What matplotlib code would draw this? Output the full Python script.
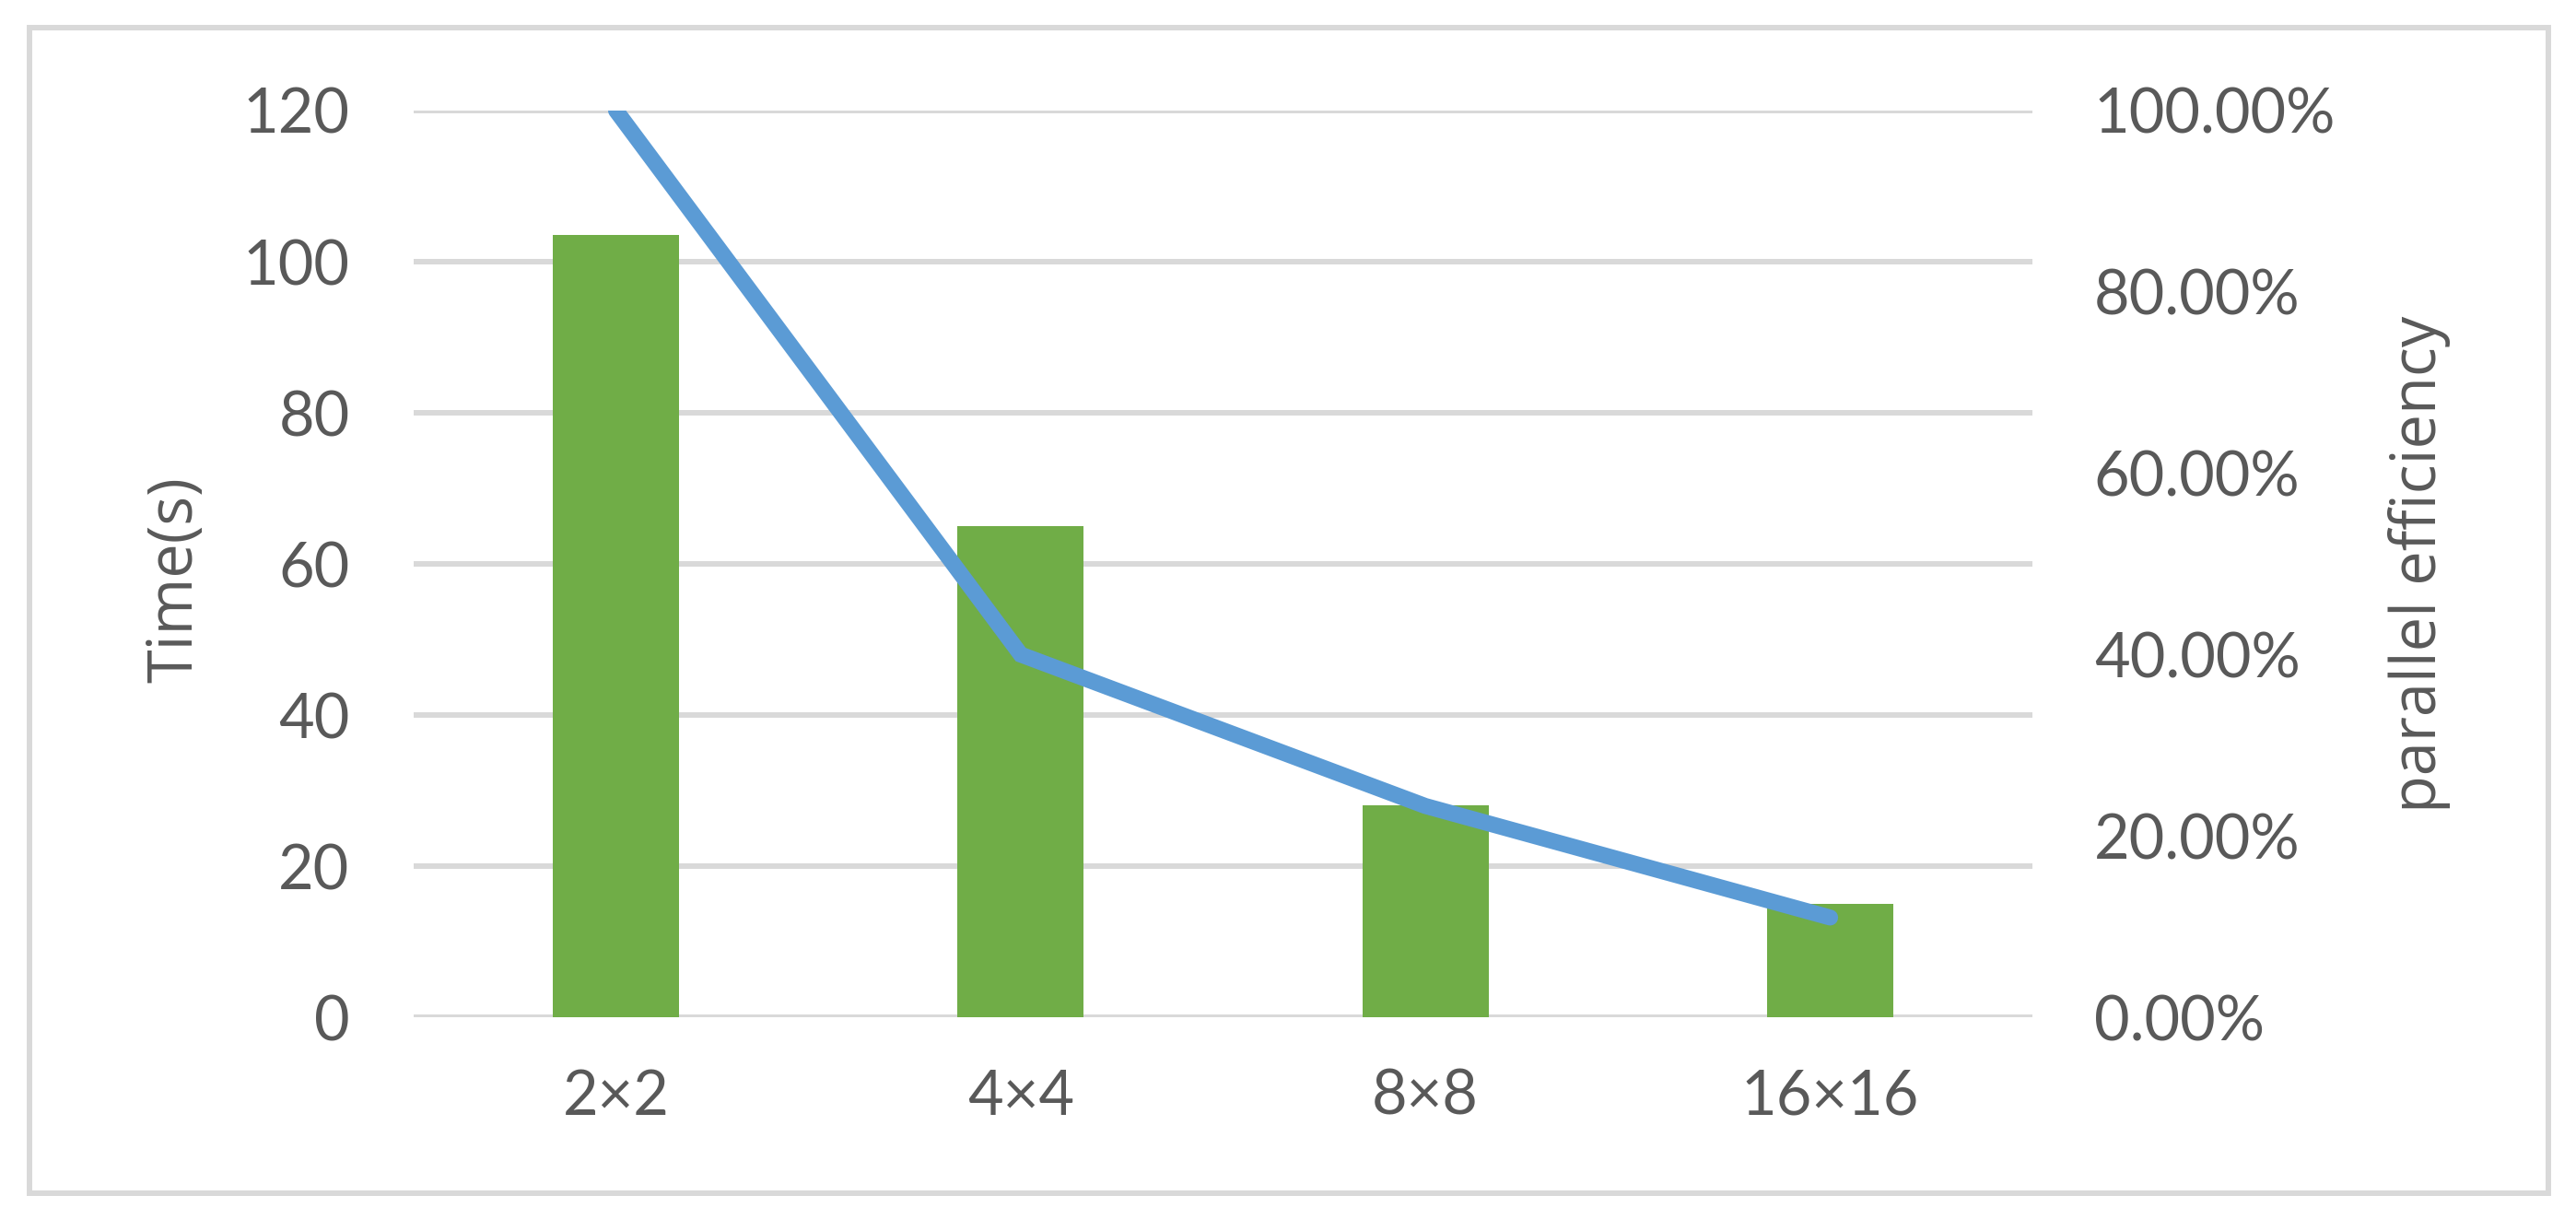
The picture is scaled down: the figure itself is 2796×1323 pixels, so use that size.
import matplotlib
matplotlib.use("Agg")
import matplotlib.pyplot as plt
from matplotlib.patches import Rectangle
from matplotlib.ticker import FuncFormatter

# ======================
# DATA
# ======================
grid_sizes = ["2×2", "4×4", "8×8", "16×16"]
run_time = [103.5, 65, 28, 15]
efficiency = [1.00, 0.40, 0.233, 0.11]

time_ticks = [0, 20, 40, 60, 80, 100, 120]
eff_ticks = [0.0, 0.2, 0.4, 0.6, 0.8, 1.0]

# ======================
# STYLE
# ======================
text_grey = "#595959"
grid_grey = "#D9D9D9"
bar_green = "#70AD47"
line_blue = "#5B9BD5"

plt.rcParams["font.family"] = ["Lato", "DejaVu Sans"]
plt.rcParams["font.size"] = 48

fig = plt.figure(figsize=(27.96, 13.23), dpi=100)
ax = fig.add_axes([0.1606, 0.1655, 0.6284, 0.7438])
ax2 = ax.twinx()

# bars (left axis)
x = list(range(len(grid_sizes)))
ax.bar(x, run_time, width=0.312, color=bar_green, zorder=2)
ax.set_xlim(-0.5, len(grid_sizes) - 0.5)
ax.set_ylim(0, 120)
ax.set_yticks(time_ticks)
ax.set_xticks(x)
ax.set_xticklabels(grid_sizes)
ax.set_axisbelow(True)
ax.yaxis.grid(True, color=grid_grey, linewidth=4.3)
ax.xaxis.grid(False)

# line (right axis)
ax2.plot(x, efficiency, color=line_blue, linewidth=12.5,
         solid_capstyle="round", solid_joinstyle="miter", zorder=3)
ax2.set_ylim(0, 1.0)
ax2.set_yticks(eff_ticks)
ax2.yaxis.set_major_formatter(FuncFormatter(lambda v, p: f"{v * 100:.2f}%"))

for a in (ax, ax2):
    for s in a.spines.values():
        s.set_visible(False)
    a.tick_params(length=0, colors=text_grey, labelsize=48)

ax.tick_params(axis="y", pad=50)
ax.tick_params(axis="x", pad=40)
ax2.tick_params(axis="y", pad=48)

# axis titles (wider face, like the reference)
title_font = ["Open Sans", "DejaVu Sans"]
ax.set_ylabel("Time(s)", color=text_grey, fontsize=48, family=title_font)
ax.yaxis.set_label_coords(-0.147, 0.483)
ax.yaxis.label.set_va("center")
ax.yaxis.label.set_ha("center")

ax2.set_ylabel("parallel efficiency", color=text_grey, fontsize=48, rotation=90,
               family=title_font)
ax2.yaxis.set_label_coords(1.239, 0.5)
ax2.yaxis.label.set_va("center")
ax2.yaxis.label.set_ha("center")

# chart border
fig.patches.append(Rectangle((0.0114, 0.0212), 0.978, 0.956, transform=fig.transFigure,
                             fill=False, edgecolor=grid_grey, linewidth=4.3))

fig.savefig("out.png", dpi=100)
plt.close(fig)
